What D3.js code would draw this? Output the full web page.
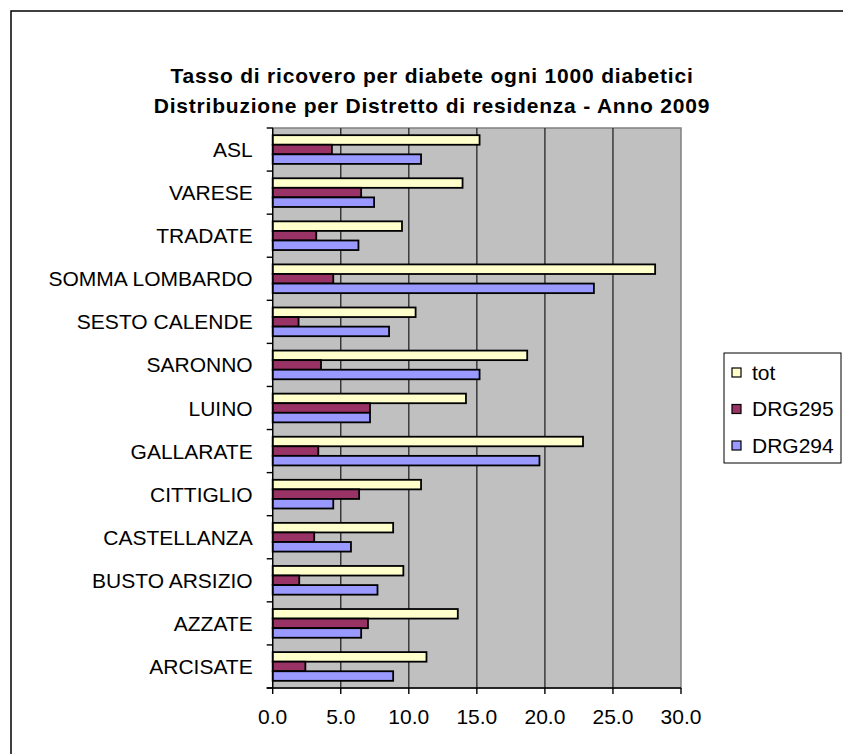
<!DOCTYPE html>
<html><head><meta charset="utf-8">
<script src="https://cdn.jsdelivr.net/npm/d3@7"></script>
<style>body{margin:0;background:#fff;} svg{display:block;}</style>
</head><body>
<script>
const categories = ["ASL","VARESE","TRADATE","SOMMA LOMBARDO","SESTO CALENDE","SARONNO","LUINO","GALLARATE","CITTIGLIO","CASTELLANZA","BUSTO ARSIZIO","AZZATE","ARCISATE"];
const seriesNames = ["tot","DRG295","DRG294"];
const tot    = [15.2,13.95,9.5,28.1,10.5,18.7,14.2,22.8,10.9,8.85,9.6,13.6,11.3];
const drg295 = [4.35,6.5,3.2,4.45,1.9,3.55,7.15,3.35,6.35,3.05,1.95,7.0,2.4];
const drg294 = [10.9,7.45,6.3,23.6,8.55,15.2,7.15,19.6,4.45,5.75,7.7,6.5,8.85];
const xTicks = [0,5,10,15,20,25,30];
const titleLines = ["Tasso di ricovero per diabete ogni 1000 diabetici","Distribuzione per Distretto di residenza - Anno 2009"];
const colors = ["#FFFFCC","#993366","#9999FF"];

const W=843,H=754;
const svg=d3.select("body").append("svg").attr("width",W).attr("height",H);
svg.append("rect").attr("width",W).attr("height",H).attr("fill","#fff");
// frame
svg.append("rect").attr("x",11).attr("y",11).attr("width",W).attr("height",H)
  .attr("fill","none").attr("stroke","#000").attr("stroke-width",1.5);

const font="Arial, 'Liberation Sans', sans-serif";
// title
svg.selectAll("text.title").data(titleLines).enter().append("text")
  .attr("x",432).attr("y",(d,i)=>83+i*30).attr("text-anchor","middle")
  .attr("font-family",font).attr("font-weight","bold").attr("font-size",21)
  .attr("letter-spacing","0.8")
  .text(d=>d);

const L=272.7,R=681,T=128,B=688;
const x=d3.scaleLinear().domain([0,30]).range([L,R]);
const y=d3.scaleBand().domain(categories).range([T,B]).padding(0);
const ys=d3.scaleBand().domain(seriesNames).range([y.bandwidth()/6, y.bandwidth()*5/6]).padding(0);

svg.append("rect").attr("x",L).attr("y",T).attr("width",R-L).attr("height",B-T)
  .attr("fill","#C0C0C0").attr("stroke","#808080").attr("stroke-width",1.5);
// gridlines
svg.selectAll("line.grid").data(xTicks.slice(1,-1)).enter().append("line")
  .attr("x1",d=>x(d)).attr("x2",d=>x(d)).attr("y1",T).attr("y2",B)
  .attr("stroke","#303030").attr("stroke-width",1.4);

const series=[tot,drg295,drg294];
series.forEach((vals,si)=>{
  svg.append("g").selectAll("rect").data(categories).enter().append("rect")
    .attr("x",x(0)).attr("y",(c)=>y(c)+ys(seriesNames[si]))
    .attr("width",(c,i)=>x(vals[i])-x(0)).attr("height",ys.bandwidth())
    .attr("fill",colors[si]).attr("stroke","#000").attr("stroke-width",1.8);
});

// y axis
const yAxis=svg.append("g").attr("transform",`translate(${L},0)`);
yAxis.append("line").attr("x1",0).attr("x2",0).attr("y1",T).attr("y2",B).attr("stroke","#000").attr("stroke-width",1.4);
const bounds=categories.map(c=>y(c)).concat([B]);
yAxis.selectAll("line.t").data(bounds).enter().append("line")
  .attr("x1",-6).attr("x2",0).attr("y1",d=>d).attr("y2",d=>d).attr("stroke","#000").attr("stroke-width",1.4);
yAxis.selectAll("text").data(categories).enter().append("text")
  .attr("x",-20).attr("y",c=>y(c)+y.bandwidth()/2).attr("dy","0.36em")
  .attr("text-anchor","end").attr("font-family",font).attr("font-size",21).text(d=>d);

// x axis
const xAxis=svg.append("g").attr("transform",`translate(0,${B})`);
xAxis.append("line").attr("x1",L-6).attr("x2",R).attr("y1",0).attr("y2",0).attr("stroke","#000").attr("stroke-width",1.4);
xAxis.selectAll("line.t").data(xTicks).enter().append("line")
  .attr("x1",d=>x(d)).attr("x2",d=>x(d)).attr("y1",0).attr("y2",6).attr("stroke","#000").attr("stroke-width",1.4);
xAxis.selectAll("text").data(xTicks).enter().append("text")
  .attr("x",d=>x(d)).attr("y",36).attr("text-anchor","middle")
  .attr("font-family",font).attr("font-size",21).text(d=>d3.format(".1f")(d));

// legend
const lg=svg.append("g");
lg.append("rect").attr("x",724).attr("y",353).attr("width",117).attr("height",110)
  .attr("fill","#fff").attr("stroke","#000").attr("stroke-width",1);
seriesNames.forEach((s,i)=>{
  const cy=372+i*36.5;
  lg.append("rect").attr("x",732).attr("y",cy-4).attr("width",9).attr("height",9)
    .attr("fill",colors[i]).attr("stroke","#000").attr("stroke-width",1.2);
  lg.append("text").attr("x",752).attr("y",cy).attr("dy","0.36em")
    .attr("font-family",font).attr("font-size",21).text(s);
});
</script>
</body></html>
